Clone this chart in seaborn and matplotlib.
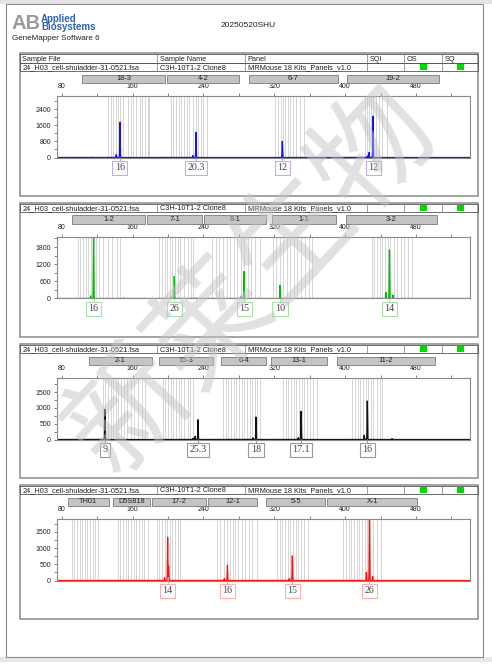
import numpy as np
import pandas as pd
import matplotlib
matplotlib.use('Agg')
import matplotlib.pyplot as plt
import seaborn as sns
from matplotlib.patches import Rectangle
from matplotlib.transforms import blended_transform_factory

# ---- report header info ----
report_title = '20250520SHU'
software = 'GeneMapper Software 6'
sample_file = '24_H03_cell-shuladder-31-0521.fsa'
sample_name = 'C3H-10T1-2 Clone8'
panel_name = 'MRMouse 18 Kits_Panels_v1.0'
col_names = ['Sample File', 'Sample Name', 'Panel', 'SQI', 'OS', 'SQ']
watermark = '新莱生物'

# ---- marker ranges (name, start bp, end bp) ----
blue_markers = [('18-3', 103, 197), ('4-2', 198.5, 280.5), ('6-7', 291.5, 391.5), ('19-2', 402.5, 506)]
green_markers = [('1-2', 91, 174), ('7-1', 176.5, 238), ('8-1', 240.5, 311), ('1-1', 317, 389.5), ('3-2', 400.5, 504)]
black_markers = [('2-1', 111, 181.5), ('15-3', 190, 250.5), ('6-4', 260, 311), ('13-1', 316, 380), ('11-2', 390.5, 501)]
red_markers = [('TH01', 87, 133), ('D5S818', 138, 180), ('17-2', 182, 242.5), ('12-1', 245.5, 300.5),
               ('5-5', 311, 377), ('X-1', 380, 481.5)]

# ---- allele bins (bp) ----
blue_bins = [132, 135, 138, 141, 143.5, 146, 149, 155, 158, 160.5, 164, 168, 171, 174, 177, 179,
             203, 206, 209, 212, 215, 218, 221, 224, 228, 231, 234, 237, 240, 244,
             321, 324, 327, 329.5, 332, 335, 338, 341, 345, 349, 354,
             422, 424.5, 427, 429.5, 432, 435, 438, 442, 447]
green_bins = [98, 101, 104, 107, 110, 113, 116, 119, 122, 127, 132, 137, 142, 146,
              190, 193, 196, 199, 202, 205, 208, 211, 214, 218, 222, 226, 228,
              250, 254, 258, 262, 266, 270, 274, 278, 282, 286, 290, 294, 298, 304,
              318, 322, 326, 330, 334, 338, 342, 346, 350, 355, 359, 362,
              430, 433, 436, 439, 442, 445, 448, 451, 455, 459, 463, 467, 471, 475]
black_bins = [126, 129, 132, 135, 138, 141, 144, 147, 150, 154, 158, 162, 166, 170, 174,
              194, 197, 200, 203, 206, 209, 212, 215, 218, 222, 225, 228,
              262, 265, 268, 271, 274, 277, 280, 283, 286, 289, 292, 295, 298, 301, 304,
              330, 333, 336, 339, 342, 345, 348, 351, 354, 357, 360, 364, 368,
              408, 411, 414, 417, 420, 423, 426, 429, 432, 436, 439, 442]
red_bins = [91, 94, 97, 100, 103, 106, 109, 112, 115, 118, 121,
            143, 146, 149, 152, 155, 158, 161, 164, 167, 170, 173, 177,
            187, 190, 193, 196, 199, 202, 205, 208, 211, 214,
            255, 259, 263, 267, 270, 273, 276, 279, 283, 287, 291, 295, 300,
            323, 326, 329, 332, 335, 338, 341, 344, 347, 350, 354, 358,
            398, 401, 404, 407, 410, 413, 416, 419, 422, 425, 428, 432, 436, 440]

# ---- called peaks ----
blue_peak_bp = [145.7, 231.5, 329.0, 431.5]
blue_peak_h = [1750, 1250, 800, 2050]
blue_calls = ['16', '20.3', '12', '12']
green_peak_bp = [115.8, 207.0, 285.8, 326.4, 450.0]
green_peak_h = [2300, 770, 945, 460, 1700]
green_calls = ['16', '26', '15', '10', '14']
black_peak_bp = [128.7, 233.8, 299.3, 350.2, 425.0]
black_peak_h = [955, 627, 710, 892, 1220]
black_calls = ['9', '25.3', '18', '17.1', '16']
red_peak_bp = [199.5, 267.0, 340.3, 427.4]
red_peak_h = [1334, 470, 760, 2100]
red_calls = ['14', '16', '15', '26']

# ---- stutter / small peaks ----
blue_minor_bp = [141.5, 228.0, 115.0, 427.0, 425.0]
blue_minor_h = [150, 100, 20, 250, 80]
green_minor_bp = [112.5, 203.5, 282.5, 446.0, 454.0, 150.0, 232.0]
green_minor_h = [90, 45, 70, 210, 120, 20, 25]
black_minor_bp = [230.5, 296.0, 347.0, 421.5, 228.0, 453.0]
black_minor_h = [100, 55, 60, 140, 40, 30]
red_minor_bp = [196.0, 200.6, 263.5, 336.8, 424.0, 431.0]
red_minor_h = [90, 450, 60, 60, 250, 130]

y_max = [3050, 2150, 1950, 1900]
y_major = [[0, 800, 1600, 2400], [0, 600, 1200, 1800], [0, 500, 1000, 1500], [0, 500, 1000, 1500]]
y_minor_step = [400, 300, 250, 250]

panels = [
    dict(color='#1010ff', box='#b0b0ff', markers=blue_markers, bins=blue_bins, pbp=blue_peak_bp,
         ph=blue_peak_h, calls=blue_calls, mbp=blue_minor_bp, mh=blue_minor_h, top=96),
    dict(color='#00c000', box='#a8e0a8', markers=green_markers, bins=green_bins, pbp=green_peak_bp,
         ph=green_peak_h, calls=green_calls, mbp=green_minor_bp, mh=green_minor_h, top=237),
    dict(color='#111111', box='#999999', markers=black_markers, bins=black_bins, pbp=black_peak_bp,
         ph=black_peak_h, calls=black_calls, mbp=black_minor_bp, mh=black_minor_h, top=378),
    dict(color='#ff1010', box='#ffb0b0', markers=red_markers, bins=red_bins, pbp=red_peak_bp,
         ph=red_peak_h, calls=red_calls, mbp=red_minor_bp, mh=red_minor_h, top=519),
]

sns.set_style('white')
plt.rcParams['font.family'] = ['Liberation Sans', 'DejaVu Sans']

W, H = 492, 665
fig = plt.figure(figsize=(W / 100, H / 100), dpi=100)
bg = fig.add_axes([0, 0, 1, 1])
bg.set_xlim(0, W)
bg.set_ylim(H, 0)
bg.axis('off')

# page frame
bg.add_patch(Rectangle((0, 0), W, 4, color='#e4e4e4', lw=0))
bg.add_patch(Rectangle((0, 657), W, 5, color='#e6e8e2', lw=0))
bg.add_patch(Rectangle((6, 4), 477, 653, fill=False, edgecolor='#8c8c8c', lw=0.8))

# logo and titles
bg.text(11, 29, 'AB', fontsize=14.5, fontweight='bold', color='#9a9a9a', va='baseline')
bg.text(41, 21.5, 'Applied', fontsize=7, fontweight='bold', color='#2c62b8', va='baseline')
bg.text(41, 30.5, 'Biosystems', fontsize=7, fontweight='bold', color='#2c62b8', va='baseline')
bg.text(12, 40, software, fontsize=5.8, color='#222', va='baseline')
bg.text(248, 27, report_title, fontsize=6, color='#222', ha='center', va='baseline')

col_x = [20, 157, 245, 367, 404, 442, 478]
X0, X1 = 74, 541
PL, PR = 56.5, 470


def header_row(y0, texts, green):
    bg.add_patch(Rectangle((20, y0), 458, 8.5, fill=False, edgecolor='#555', lw=0.6))
    for i in range(1, 6):
        bg.plot([col_x[i], col_x[i]], [y0, y0 + 8.5], color='#777', lw=0.5)
    for i, t in enumerate(texts):
        bg.text(col_x[i] + 2.5, y0 + 7, t, fontsize=5.3, color='#222', va='baseline')
    if green:
        for gx in [420, 457]:
            bg.add_patch(Rectangle((gx, y0 + 1.5), 6.5, 6, color='#00d800', lw=0))


for k, p in enumerate(panels):
    T = p['top']
    B = T + 61.5
    box_top = T - 43 if k == 0 else T - 34
    bg.add_patch(Rectangle((20, box_top), 458, T + 100 - box_top, fill=False, edgecolor='#8a8a8a', lw=1.1))
    if k == 0:
        header_row(T - 42, col_names, False)
    header_row(T - 33.5, [sample_file, sample_name, panel_name], True)

    ax = fig.add_axes([PL / W, 1 - B / H, (PR - PL) / W, (B - T) / H])
    for b in p['bins']:
        ax.axvline(b, color='#cfcfcf', lw=0.6, zorder=0)

    # build trace from the peak lists
    x = np.arange(X0, X1, 0.05)
    y = np.zeros_like(x)
    for bp, h in zip(p['pbp'] + p['mbp'], p['ph'] + p['mh']):
        y += h * np.exp(-0.5 * ((x - bp) / 0.25) ** 2)
    trace = pd.DataFrame({'bp': x, 'rfu': y})
    sns.lineplot(data=trace, x='bp', y='rfu', ax=ax, color=p['color'], lw=0.9, estimator=None)

    ax.set_xlim(X0, X1)
    ax.set_ylim(0, y_max[k])
    ax.set_xlabel('')
    ax.set_ylabel('')
    ax.xaxis.tick_top()
    ax.set_xticks([80, 160, 240, 320, 400, 480])
    ax.set_xticks([120, 200, 280, 360, 440, 520], minor=True)
    ax.set_yticks(y_major[k])
    ax.set_yticks(np.arange(0, y_max[k], y_minor_step[k]), minor=True)
    ax.tick_params(axis='both', which='both', labelsize=5, colors='#555', labelcolor='#222',
                   length=2.5, width=0.5, pad=1.5, direction='out')
    ax.tick_params(axis='x', which='both', top=True, bottom=False)
    ax.tick_params(axis='y', which='both', left=True)
    for s in ax.spines.values():
        s.set_color('#8a8a8a')
        s.set_linewidth(0.8)

    tr = blended_transform_factory(ax.transData, ax.transAxes)
    # marker range bars
    for name, s, e in p['markers']:
        ax.add_patch(Rectangle((s, 1 + 13 / 61.5), e - s, 8.5 / 61.5, transform=tr, clip_on=False,
                               facecolor='#c4c4c4', edgecolor='#7a7a7a', lw=0.6))
        ax.text((s + e) / 2, 1 + 17.3 / 61.5, name, transform=tr, fontsize=5.3, ha='center',
                va='center', color='#222')
    # allele call boxes
    for bp, c in zip(p['pbp'], p['calls']):
        ax.plot([bp, bp], [0, -0.07], transform=tr, clip_on=False, color=p['box'], lw=0.8)
        ax.text(bp, -0.165, c, transform=tr, fontsize=7.2, family='Liberation Serif', color='#444',
                ha='center', va='center',
                bbox=dict(boxstyle='square,pad=0.25', facecolor='white', edgecolor=p['box'], lw=0.8))

# watermark on top
wm = fig.add_axes([0, 0, 1, 1])
wm.set_xlim(0, W)
wm.set_ylim(H, 0)
wm.axis('off')
wm.text(252, 280, watermark, fontsize=86, color='#c4c4c4', alpha=0.5, rotation=47,
        ha='center', va='center', family=['Noto Sans CJK SC', 'DejaVu Sans'])

fig.savefig('out.png', dpi=100)
